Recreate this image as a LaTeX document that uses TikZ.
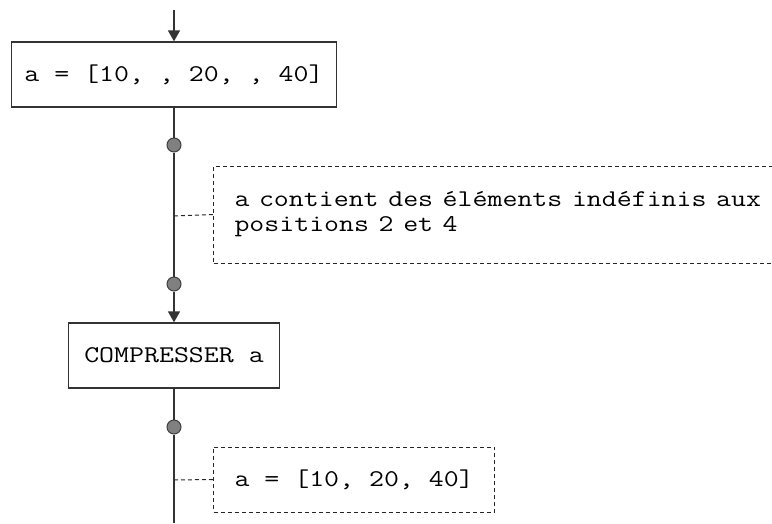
\documentclass[tikz,border=0pt]{standalone}
\usepackage{fontspec}
\newfontfamily\codefont{Latin Modern Mono}[FakeStretch=1.21]
\usetikzlibrary{arrows.meta}

\begin{document}
\begin{tikzpicture}[x=1pt,y=-1pt,>={Triangle[width=12pt,length=11pt]},
  font=\codefont\fontsize{24}{25}\selectfont,
  flow/.style={draw=black!80,line width=1.3pt},
  tie/.style={draw=black!85,line width=1pt,dash pattern=on 4pt off 3pt},
  stmt/.style={draw=black!80,line width=1.3pt,minimum height=65pt,inner sep=0pt},
  remark/.style={tie,anchor=west,align=left,inner xsep=21pt,inner ysep=0pt},
  probe/.style={circle,draw=black!75,fill=black!50,line width=1pt,minimum size=14pt,inner sep=0pt}]
 \useasboundingbox (0,0) rectangle (772,523);
 \clip (0,0) rectangle (772,523);
 % instructions
 \node[stmt,minimum width=325pt] (init) at (174,74.5) {a = [10, , 20, , 40]};
 \node[stmt,minimum width=211pt] (compr) at (174,355.5) {COMPRESSER a};
 % probes and comments
 \node[probe] (d1) at (174,145) {};
 \node[probe] (d2) at (174,284) {};
 \node[probe] (d3) at (174,427) {};
 \node[remark,text width=560pt,minimum height=97pt] (note1) at (213,214.5)
   {\spaceskip=9.6pt a contient des éléments indéfinis aux\\positions 2 et 4};
 \node[remark,minimum width=268pt,minimum height=65pt] (note2) at (213,479.5)
   {a = [10, 20, 40]};
 \coordinate (top) at (174,10);
 \coordinate (tap1) at (174,216);
 \coordinate (tap2) at (174,480);
 \coordinate (bottom) at (174,523);
 % flow
 \draw[flow,->] (top) -- (init);
 \draw[flow] (init) -- (d1) -- (d2);
 \draw[flow,->] (d2) -- (compr);
 \draw[flow] (compr) -- (d3) -- (bottom);
 \draw[tie] (tap1) -- (note1.west);
 \draw[tie] (tap2) -- (note2.west);
\end{tikzpicture}
\end{document}
